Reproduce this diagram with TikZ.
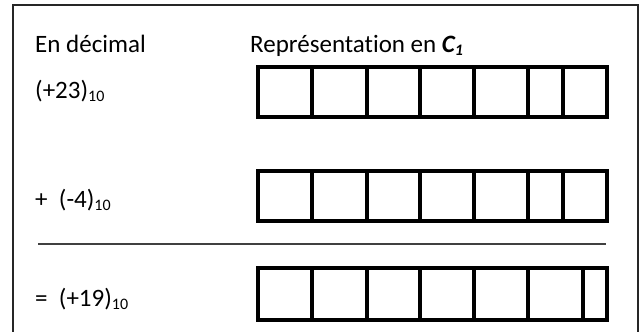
\documentclass[tikz,border=0pt]{standalone}
\usepackage{fontspec}
\setmainfont{Carlito}[Ligatures=NoCommon]
\tikzstyle{frame} = [draw=black!85,line width=2pt]
\tikzstyle{cell} = [draw,line width=4pt]
\tikzstyle{rule} = [draw=black!75,line width=1.6pt]
\tikzstyle{label} = [anchor=base west,inner sep=0pt,font=\fontsize{25}{30}\selectfont]
\newcommand{\indice}[1]{\raisebox{-0.3ex}{\fontsize{16}{16}\selectfont #1}}

\begin{document}
\begin{tikzpicture}[x=1pt,y=-1pt]
        \useasboundingbox (0,0) rectangle (643,332);
        \draw[frame] (13,345) -- (13,5) -- (638,5) -- (638,345);

        \node[label] (dec) at (35,52) {En décimal};
        \node[label] (rep) at (250,52) {Représentation en \textbf{\textit{C\indice{1}}}};
        \node[label] (a) at (35,98) {(+23)\indice{10}};
        \node[label] (b) at (35,207) {+\ \ (-4)\indice{10}};
        \node[label] (s) at (35,306) {=\ \ (+19)\indice{10}};

        % cases des bits
        \foreach \rowy in {67,171}{
            \draw[cell] (258,\rowy) rectangle (607,\rowy+50);
            \foreach \x in {312,367,420,474,528,563}
                \draw[cell] (\x,\rowy) -- (\x,\rowy+50);
        }
        \draw[cell] (258,268) rectangle (607,320);
        \foreach \x in {312,367,420,474,528,583}
            \draw[cell] (\x,268) -- (\x,320);

        \draw[rule] (38,244) -- (606,244);
    \end{tikzpicture}
\end{document}
